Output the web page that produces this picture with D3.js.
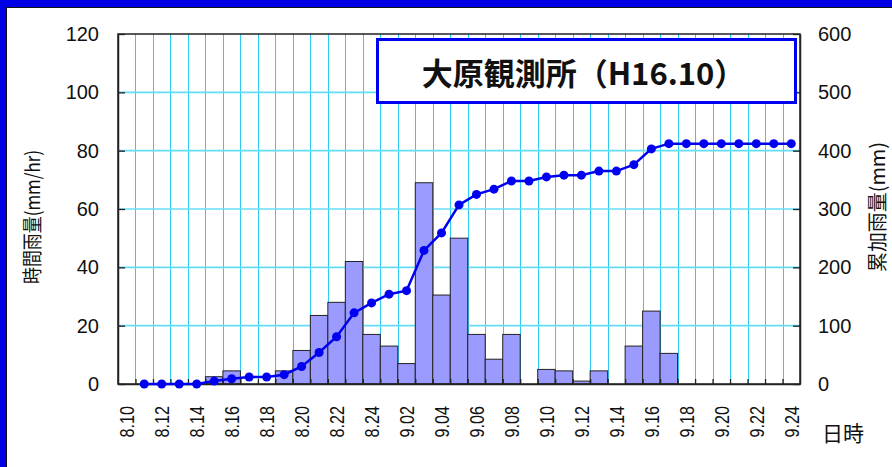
<!DOCTYPE html>
<html>
<head>
<meta charset="utf-8" />
<title>大原観測所(H16.10)</title>
<style>
  body { margin: 0; background: #fff; }
  svg { display: block; }
</style>
</head>
<body>
<script src="https://cdn.jsdelivr.net/npm/d3@7/dist/d3.min.js"></script>
<script>

    var categories = ["8.10","8.11","8.12","8.13","8.14","8.15","8.16","8.17","8.18","8.19",
                      "8.20","8.21","8.22","8.23","8.24",
                      "9.01","9.02","9.03","9.04","9.05","9.06","9.07","9.08","9.09","9.10",
                      "9.11","9.12","9.13","9.14","9.15","9.16","9.17","9.18","9.19","9.20",
                      "9.21","9.22","9.23","9.24"];

    // hourly rainfall (mm/hr), left axis
    var hourlyRain = [null,0,0,0,0,2.5,4.5,0,0,4.5,
                      11.5,23.5,28,42,17,
                      13,7,69,30.5,50,17,8.5,17,0,5,
                      4.5,1,4.5,0,13,25,10.5,0,0,0,
                      0,0,0,0];

    // cumulative rainfall (mm), right axis
    var cumulative = [null,0,0,0,0,5,9,12,12,16,
                      30,54,81,122,139,
                      154,160,229,259,307,325,334,348,348,355,
                      358,358,365,365,376,403,412,412,412,412,
                      412,412,412,412];

    var leftTicks = [0,20,40,60,80,100,120];
    var rightTicks = [0,100,200,300,400,500,600];

    var width = 892;
    var height = 467;
    var margin = {"left":118, "right":92, "top":34, "bottom":83};
    var numFont = "'Liberation Sans', Arial, sans-serif";
    var jpFont = "'Noto Sans CJK JP', sans-serif";

    var svg = d3.select("body").append("svg")
                .attr("width", width)
                .attr("height", height);

    svg.append("rect").attr("width", width).attr("height", height).attr("fill", "#fff");

    // outer frame (only top and left edges show)
    svg.append("rect").attr("x",0).attr("y",0).attr("width",width).attr("height",7).attr("fill","#0000e6");
    svg.append("rect").attr("x",0).attr("y",0).attr("width",6).attr("height",height).attr("fill","#0000e6");
    svg.append("line").attr("x1",6).attr("x2",width).attr("y1",7.5).attr("y2",7.5)
       .attr("stroke","#111").attr("stroke-width",1);
    svg.append("line").attr("x1",6.5).attr("x2",6.5).attr("y1",7).attr("y2",height)
       .attr("stroke","#111").attr("stroke-width",1);

    var x0 = margin.left, x1 = width - margin.right;
    var y0 = height - margin.bottom, y1 = margin.top;

    var xBand = d3.scaleBand()
                  .domain(categories)
                  .range([x0, x1])
                  .padding(0);

    var xEdge = d3.scaleLinear()
                  .domain([0, categories.length])
                  .range([x0, x1]);

    var yLeft = d3.scaleLinear().domain([0,120]).range([y0, y1]);
    var yRight = d3.scaleLinear().domain([0,600]).range([y0, y1]);

    // grid
    var grid = svg.append("g");
    grid.selectAll("line.v")
        .data(d3.range(1, categories.length))
        .enter().append("line")
        .attr("class","v")
        .attr("x1", d => Math.round(xEdge(d)) + 0.5)
        .attr("x2", d => Math.round(xEdge(d)) + 0.5)
        .attr("y1", y1).attr("y2", y0)
        .attr("stroke", "#2ccbf2")
        .attr("stroke-width", 1);

    grid.selectAll("line.h")
        .data(leftTicks.filter(d => d > 0 && d < 120))
        .enter().append("line")
        .attr("class","h")
        .attr("x1", x0).attr("x2", x1)
        .attr("y1", d => yLeft(d)).attr("y2", d => yLeft(d))
        .attr("stroke", "#66dcf6")
        .attr("stroke-width", 1.6);

    // bars
    svg.append("g")
       .selectAll("rect")
       .data(categories.map((c,i) => ({c:c, v:hourlyRain[i]})).filter(d => d.v != null && d.v > 0))
       .enter().append("rect")
       .attr("x", d => xBand(d.c))
       .attr("width", xBand.bandwidth())
       .attr("y", d => yLeft(d.v))
       .attr("height", d => yLeft(0) - yLeft(d.v))
       .attr("fill", "#9b9bff")
       .attr("stroke", "#222")
       .attr("stroke-width", 1);

    // plot frame
    svg.append("rect")
       .attr("x", x0).attr("y", y1)
       .attr("width", x1 - x0).attr("height", y0 - y1)
       .attr("fill", "none")
       .attr("stroke", "#222")
       .attr("stroke-width", 1.5);

    // axes
    var leftAxis = svg.append("g")
       .attr("transform","translate("+x0+",0)")
       .call(d3.axisLeft(yLeft).tickValues(leftTicks).tickSizeInner(-7).tickSizeOuter(0).tickPadding(19));
    var rightAxis = svg.append("g")
       .attr("transform","translate("+x1+",0)")
       .call(d3.axisRight(yRight).tickValues(rightTicks).tickSizeInner(-7).tickSizeOuter(0).tickPadding(18));
    var bottomAxis = svg.append("g")
       .attr("transform","translate(0,"+y0+")")
       .call(d3.axisBottom(xEdge).tickValues(d3.range(1, categories.length)).tickSizeInner(-5).tickSizeOuter(0).tickFormat(""));

    [leftAxis, rightAxis, bottomAxis].forEach(function(a){
        a.select(".domain").attr("stroke","#222").attr("stroke-width",1.5);
        a.selectAll(".tick line").attr("stroke","#222").attr("stroke-width",1.3);
        a.selectAll("text").attr("font-family", numFont).attr("font-size", 20).attr("fill","#111");
    });

    // category labels (every second hour), rotated
    svg.append("g")
       .selectAll("text")
       .data(categories.filter((c,i) => i % 2 == 0))
       .enter().append("text")
       .attr("transform", d => "translate("+(xBand(d) + xBand.bandwidth()/2)+",406) rotate(-90) scale(0.77,1)")
       .attr("text-anchor","end")
       .attr("dy","0.36em")
       .attr("font-family", numFont)
       .attr("font-size", 21)
       .attr("fill","#111")
       .text(d => d);

    // cumulative line
    var pts = categories.map((c,i) => ({c:c, v:cumulative[i]})).filter(d => d.v != null);
    var line = d3.line()
                 .x(d => xBand(d.c) + xBand.bandwidth()/2)
                 .y(d => yRight(d.v));

    svg.append("path")
       .datum(pts)
       .attr("d", line)
       .attr("fill","none")
       .attr("stroke","#0000f0")
       .attr("stroke-width",2.5);

    svg.append("g")
       .selectAll("circle")
       .data(pts)
       .enter().append("circle")
       .attr("cx", d => xBand(d.c) + xBand.bandwidth()/2)
       .attr("cy", d => yRight(d.v))
       .attr("r", 4.5)
       .attr("fill","#0000f0");

    // axis titles
    svg.append("text")
       .attr("transform","translate(33,"+((y0+y1)/2 + 8)+") rotate(-90)")
       .attr("text-anchor","middle")
       .attr("dy","0.35em")
       .attr("font-family", jpFont)
       .attr("font-size", 20)
       .attr("textLength", 134)
       .attr("lengthAdjust","spacingAndGlyphs")
       .attr("fill","#111")
       .text("時間雨量(mm/hr)");

    svg.append("text")
       .attr("transform","translate(878,207) rotate(-90)")
       .attr("text-anchor","middle")
       .attr("dy","0.35em")
       .attr("font-family", jpFont)
       .attr("font-size", 20)
       .attr("textLength", 130)
       .attr("lengthAdjust","spacingAndGlyphs")
       .attr("fill","#111")
       .text("累加雨量(mm)");

    svg.append("text")
       .attr("x", 822).attr("y", 432)
       .attr("dominant-baseline","central")
       .attr("font-family", jpFont)
       .attr("font-size", 21)
       .attr("fill","#111")
       .text("日時");

    // title box
    var tb = {x:377.5, y:39.5, w:418, h:63};
    svg.append("rect")
       .attr("x", tb.x).attr("y", tb.y)
       .attr("width", tb.w).attr("height", tb.h)
       .attr("fill","#fff")
       .attr("stroke","#0000f0")
       .attr("stroke-width",3);

    svg.append("text")
       .attr("x", tb.x + tb.w/2 - 3).attr("y", tb.y + tb.h/2)
       .attr("text-anchor","middle")
       .attr("dominant-baseline","central")
       .attr("font-family", jpFont)
       .attr("font-weight","bold")
       .attr("font-size", 31)
       .attr("fill","#111")
       .text("大原観測所（H16.10）");

</script>
</body>
</html>
